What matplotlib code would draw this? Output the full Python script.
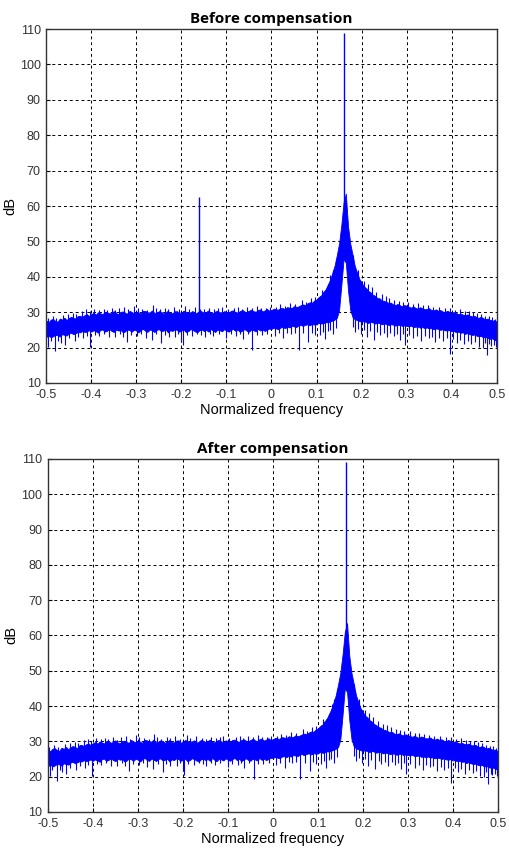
import numpy as np
import matplotlib
matplotlib.use("Agg")
import matplotlib.pyplot as plt

plt.rcParams['axes.unicode_minus'] = False
plt.rcParams['font.family'] = ['Liberation Sans', 'DejaVu Sans']

# spectrum estimate, 0.005 bins across the normalized band
freq = np.round(np.arange(-0.5, 0.5001, 0.005), 3)

# top / bottom of the dense noise band in each bin (dB)
upper = [
    27.6, 27.2, 27.9, 28.1, 27.5, 27.3, 28.2, 27.9, 28.4, 27.8,
    28.3, 28.7, 28.4, 28.1, 28.9, 29.0, 28.6, 29.2, 29.4, 28.9,
    29.5, 29.8, 29.3, 30.0, 29.7, 29.4, 30.1, 30.0, 29.6, 29.9,
    30.3, 29.7, 29.5, 30.1, 30.2, 29.8, 29.6, 30.4, 30.0, 29.7,
    30.2, 29.9, 29.6, 30.4, 30.3, 29.8, 30.0, 30.5, 29.7, 29.9,
    30.3, 30.1, 29.6, 30.0, 30.4, 29.8, 29.7, 30.2, 30.3, 29.6,
    29.9, 30.4, 30.1, 29.7, 30.0, 30.3, 29.6, 29.9, 30.4, 30.2,
    29.8, 30.1, 30.5, 29.9, 29.7, 30.2, 30.4, 30.0, 29.8, 30.3,
    30.1, 29.8, 30.4, 30.5, 30.0, 29.9, 30.3, 30.6, 30.2, 30.0,
    30.4, 30.7, 30.3, 30.1, 30.6, 30.8, 30.2, 30.5, 30.9, 30.4,
    30.6, 31.0, 30.8, 30.7, 31.2, 31.1, 30.9, 31.4, 31.3, 31.2,
    31.7, 31.5, 31.6, 32.0, 32.2, 32.0, 32.5, 32.8, 32.7, 33.3,
    33.6, 34.3, 34.7, 35.7, 36.4, 37.8, 39.1, 41.1, 43.1, 46.1,
    49.4, 54.6, 61.0, 63.5, 54.2, 49.3, 46.2, 43.0, 41.2, 39.4,
    38.4, 37.3, 36.8, 36.0, 35.6, 34.9, 34.6, 34.0, 33.9, 33.3,
    33.2, 32.9, 32.6, 32.7, 32.2, 32.0, 32.3, 31.9, 31.7, 32.0,
    31.8, 31.5, 31.3, 31.6, 31.2, 31.0, 31.4, 31.1, 30.8, 30.9,
    31.1, 30.6, 30.5, 30.8, 30.4, 30.6, 30.2, 30.0, 30.4, 30.1,
    29.8, 30.0, 29.7, 29.4, 29.6, 29.3, 29.1, 29.4, 29.0, 28.8,
    29.0, 28.6, 28.4, 28.7, 28.3, 28.0, 28.2, 27.8, 27.6, 27.7,
    27.2,
]
lower = [
    23.0, 23.4, 22.9, 23.2, 23.6, 23.5, 23.1, 23.8, 23.6, 23.4,
    24.0, 24.2, 23.8, 24.1, 24.4, 24.3, 24.7, 24.4, 24.6, 24.9,
    24.5, 24.9, 24.6, 24.2, 25.0, 25.1, 24.5, 24.8, 25.2, 24.7,
    24.4, 25.1, 24.8, 25.0, 24.3, 24.6, 25.2, 24.9, 24.5, 25.1,
    24.8, 24.3, 25.0, 25.3, 24.7, 24.5, 25.1, 24.9, 24.4, 25.0,
    25.2, 24.6, 24.8, 25.1, 24.3, 24.9, 24.7, 25.2, 25.0, 24.5,
    24.8, 25.1, 24.4, 24.7, 25.2, 25.0, 24.6, 24.3, 24.9, 25.1,
    24.7, 25.0, 24.5, 25.3, 24.8, 24.4, 25.1, 24.9, 24.6, 25.2,
    24.8, 24.5, 25.0, 25.3, 24.7, 25.1, 24.4, 24.9, 25.2, 24.8,
    24.5, 25.1, 24.9, 24.6, 25.3, 24.8, 25.1, 24.7, 25.0, 25.4,
    25.3, 25.6, 25.4, 25.2, 25.7, 25.8, 25.5, 25.9, 25.7, 26.1,
    26.0, 25.8, 26.3, 26.4, 26.1, 26.5, 26.6, 26.3, 26.7, 26.5,
    26.6, 27.0, 26.8, 26.9, 27.2, 27.1, 27.4, 27.6, 27.9, 28.4,
    30.5, 37.5, 45.0, 44.0, 36.0, 30.5, 28.6, 28.0, 27.8, 27.5,
    27.3, 27.5, 27.2, 27.0, 27.3, 27.1, 26.8, 27.0, 26.9, 26.6,
    26.8, 26.7, 26.4, 26.6, 26.5, 26.2, 26.4, 26.5, 26.1, 26.3,
    26.1, 26.0, 26.2, 25.8, 25.9, 26.0, 25.6, 25.8, 25.5, 25.7,
    25.4, 25.5, 25.2, 25.4, 25.3, 25.0, 25.2, 24.9, 24.8, 25.0,
    24.6, 24.7, 24.4, 24.5, 24.2, 24.3, 23.9, 24.1, 23.8, 23.6,
    23.7, 23.4, 23.2, 23.3, 22.9, 23.0, 22.7, 22.5, 22.6, 22.2,
    21.9,
]

# isolated bins sticking out above the band
spike_up_freq = [
    -0.497, -0.486, -0.478, -0.463, -0.452, -0.441, -0.433, -0.421, -0.412, -0.404,
    -0.394, -0.383, -0.373, -0.366, -0.355, -0.347, -0.338, -0.327, -0.318, -0.305,
    -0.297, -0.287, -0.276, -0.264, -0.257, -0.248, -0.236, -0.229, -0.217, -0.206,
    -0.192, -0.184, -0.170, -0.158, -0.149, -0.138, -0.127, -0.118, -0.110, -0.097,
    -0.083, -0.074, -0.066, -0.055, -0.044, -0.032, -0.024, -0.012, -0.004, 0.009,
    0.018, 0.029, 0.041, 0.052, 0.067, 0.076, 0.088, 0.097, 0.112, 0.121,
    0.131, 0.192, 0.205, 0.214, 0.223, 0.233, 0.246, 0.254, 0.262, 0.273,
    0.283, 0.292, 0.304, 0.315, 0.326, 0.337, 0.347, 0.359, 0.372, 0.385,
    0.397, 0.408, 0.418, 0.429, 0.438, 0.447, 0.456, 0.465, 0.474, 0.482, 0.489, 0.496,
]
spike_up_level = [
    28.4, 28.9, 28.5, 29.3, 29.6, 29.9, 29.4, 30.3, 30.8, 30.2,
    31.0, 30.6, 30.9, 30.7, 31.1, 30.5, 31.2, 31.6, 30.8, 31.8,
    31.1, 31.0, 30.7, 32.1, 31.3, 30.8, 31.2, 30.9, 31.4, 30.8,
    31.8, 30.9, 31.4, 31.0, 30.8, 31.2, 30.9, 31.3, 31.6, 31.0,
    31.2, 31.5, 30.9, 31.4, 31.1, 31.8, 31.2, 31.3, 31.6, 31.5,
    32.2, 31.8, 32.6, 32.3, 33.5, 33.0, 34.0, 34.3, 36.3, 36.5,
    40.5, 42.0, 38.9, 38.0, 37.0, 35.8, 35.0, 34.6, 34.0, 33.4,
    33.3, 32.9, 32.9, 32.4, 32.5, 32.0, 31.9, 31.4, 31.6, 31.2,
    31.1, 30.6, 30.9, 30.4, 30.2, 30.0, 29.7, 29.4, 29.0, 28.8, 28.6, 28.2,
]
# and below it
spike_dn_freq = [
    -0.496, -0.490, -0.481, -0.474, -0.468, -0.459, -0.450, -0.437, -0.429, -0.418,
    -0.410, -0.403, -0.392, -0.382, -0.371, -0.361, -0.347, -0.336, -0.329, -0.320,
    -0.311, -0.298, -0.289, -0.279, -0.266, -0.256, -0.245, -0.237, -0.228, -0.214,
    -0.207, -0.200, -0.197, -0.188, -0.176, -0.165, -0.156, -0.148, -0.137, -0.129,
    -0.117, -0.100, -0.091, -0.078, -0.070, -0.064, -0.052, -0.043, -0.032, -0.021,
    -0.009, 0.008, 0.017, 0.026, 0.035, 0.043, 0.052, 0.061, 0.071, 0.082,
    0.089, 0.096, 0.108, 0.114, 0.119, 0.125, 0.130, 0.137, 0.143, 0.180,
    0.186, 0.192, 0.198, 0.205, 0.212, 0.219, 0.228, 0.235, 0.241, 0.249,
    0.257, 0.264, 0.271, 0.278, 0.285, 0.291, 0.297, 0.306, 0.315, 0.324,
    0.333, 0.341, 0.349, 0.357, 0.364, 0.373, 0.381, 0.389, 0.396, 0.404,
    0.411, 0.419, 0.427, 0.436, 0.444, 0.452, 0.461, 0.469, 0.474, 0.479,
    0.484, 0.488, 0.493, 0.498,
]
spike_dn_level = [
    20.3, 21.8, 18.9, 22.0, 21.3, 20.8, 22.6, 22.0, 23.0, 22.6,
    23.4, 20.3, 23.6, 23.3, 23.8, 23.0, 23.1, 23.9, 22.9, 21.7,
    23.5, 23.4, 23.9, 22.8, 22.2, 23.7, 21.2, 23.5, 23.0, 22.9,
    23.8, 21.7, 20.6, 23.6, 23.2, 23.9, 23.5, 22.9, 23.8, 23.4,
    23.9, 22.8, 23.7, 23.3, 23.9, 22.5, 23.8, 19.3, 23.6, 23.6,
    23.9, 23.2, 24.0, 22.6, 24.1, 23.8, 24.2, 19.3, 24.0, 21.7,
    24.2, 23.5, 23.6, 24.4, 22.4, 24.6, 25.0, 23.9, 25.5, 25.8,
    24.5, 25.2, 23.8, 24.9, 23.1, 24.6, 22.2, 24.4, 23.6, 24.2,
    22.9, 24.1, 23.3, 23.9, 22.2, 23.8, 20.8, 23.5, 22.6, 23.4,
    21.9, 23.2, 22.7, 23.0, 21.7, 22.8, 22.0, 22.6, 18.2, 22.4,
    21.4, 22.1, 20.9, 21.8, 21.0, 21.5, 20.3, 19.8, 21.2, 17.9,
    20.9, 20.4, 20.8, 20.1,
]

# carrier and its image (image only present before compensation)
tone_freq, tone_base, tone_level = 0.162, 60.0, 109.0
image_freq, image_base, image_level = -0.162, 28.0, 62.5

xticks = [-0.5, -0.4, -0.3, -0.2, -0.1, 0, 0.1, 0.2, 0.3, 0.4, 0.5]
xtick_labels = ['-0.5', '-0.4', '-0.3', '-0.2', '-0.1', '0', '0.1', '0.2', '0.3', '0.4', '0.5']
yticks = [10, 20, 30, 40, 50, 60, 70, 80, 90, 100, 110]

BLUE = '#0000ff'


def draw_spectrum(ax, title, show_image):
    ax.fill_between(freq, lower, upper, color=BLUE, linewidth=0.6, edgecolor=BLUE)
    # single-bin outliers, drawn from inside the band out to their level
    ax.vlines(spike_up_freq, np.interp(spike_up_freq, freq, lower), spike_up_level,
              color=BLUE, linewidth=0.8)
    ax.vlines(spike_dn_freq, np.interp(spike_dn_freq, freq, upper), spike_dn_level,
              color=BLUE, linewidth=0.8)
    ax.vlines(tone_freq, tone_base, tone_level, color=BLUE, linewidth=1.0)
    if show_image:
        ax.vlines(image_freq, image_base, image_level, color=BLUE, linewidth=1.0)

    ax.set_xlim(-0.5, 0.5)
    ax.set_ylim(10, 110)
    ax.set_xticks(xticks)
    ax.set_xticklabels(xtick_labels)
    ax.set_yticks(yticks)
    ax.tick_params(direction='in', length=3, labelsize=9, labelcolor='#333333', pad=4)
    ax.grid(True, color='black', linestyle=(0, (3, 3)), linewidth=0.7)
    ax.set_axisbelow(True)
    for sp in ax.spines.values():
        sp.set_color('#333333')
        sp.set_linewidth(1.0)
    ax.set_xlabel('Normalized frequency', fontsize=10.5, labelpad=2)
    ax.set_ylabel('dB', fontsize=10.5, labelpad=2)
    ax.set_title(title, fontsize=11, fontweight='bold', family=['Open Sans', 'DejaVu Sans'], pad=4)


fig = plt.figure(figsize=(5.10, 8.49), dpi=100)
ax1 = fig.add_axes([0.0908, 0.5489, 0.8831, 0.4169])
ax2 = fig.add_axes([0.0941, 0.0436, 0.8818, 0.4158])

draw_spectrum(ax1, 'Before compensation', True)
draw_spectrum(ax2, 'After compensation', False)

fig.savefig('out.png', dpi=100)
